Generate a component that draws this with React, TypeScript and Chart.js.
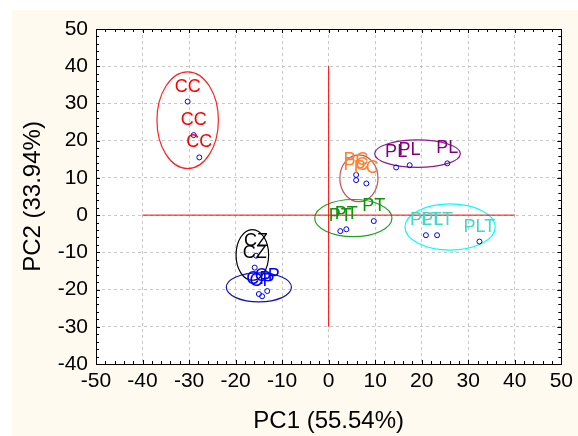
import React, { useEffect, useRef } from "react";
import { Chart, registerables } from "chart.js";

Chart.register(...registerables);

// Groups (sample classes)
const groupNames = ["CC", "CZ", "CP", "PC", "PT", "PL", "PLT"];
const labelColors = ["#ff0000", "#000000", "#0000ff", "#ff8030", "#0a960a", "#800080", "#40d8c8"];
const ellipseColors = ["#ff2020", "#000000", "#1010b0", "#c85050", "#20a020", "#8a1a8a", "#00ffff"];

// PCA scores (PC1, PC2) per group
const ccX = [-30.3, -29.0, -27.8];
const ccY = [30.5, 21.5, 15.5];
const czX = [-15.6, -15.9];
const czY = [-10.9, -14.1];
const cpX = [-15.0, -14.3, -13.2];
const cpY = [-21.2, -21.8, -20.4];
const pcX = [5.9, 5.9, 8.1];
const pcY = [10.8, 9.4, 8.5];
const ptX = [2.5, 3.8, 9.7];
const ptY = [-4.3, -3.8, -1.6];
const plX = [14.5, 17.4, 25.5];
const plY = [12.8, 13.4, 13.9];
const pltX = [20.9, 23.3, 32.4];
const pltY = [-5.4, -5.4, -7.1];

// Confidence ellipses: centre (x, y) and radii (rx, ry) in data units
const ellCX = [-30.3, -16.4, -15.0, 6.5, 5.3, 19.1, 26.1];
const ellCY = [25.5, -10.7, -19.4, 9.9, -0.8, 16.5, -3.2];
const ellRX = [6.6, 3.5, 7.0, 4.1, 8.3, 9.2, 9.7];
const ellRY = [13.0, 6.8, 3.9, 6.3, 5.0, 3.7, 6.2];

// Reference cross lines
const vLineX = [0, 0];
const vLineY = [-30, 40];
const hLineX = [-40, 40];
const hLineY = [0, 0];

// Axis ranges / ticks
const xMin = -50, xMax = 50, yMin = -40, yMax = 50;
const majorStep = 10, minorStep = 2;
const xTitle = "PC1 (55.54%)";
const yTitle = "PC2 (33.94%)";

const seriesX = [ccX, czX, cpX, pcX, ptX, plX, pltX];
const seriesY = [ccY, czY, cpY, pcY, ptY, plY, pltY];

const FONT = "'Liberation Sans', Arial, sans-serif";

export default function App() {
  const ref = useRef<HTMLCanvasElement | null>(null);

  useEffect(() => {
    if (!ref.current) return;

    const pointDatasets = groupNames.map((name, i) => ({
      type: "scatter" as const,
      label: name,
      data: seriesX[i].map((x, j) => ({ x, y: seriesY[i][j] })),
      pointRadius: 2.5,
      pointBorderWidth: 1,
      pointBorderColor: "#0000ff",
      pointBackgroundColor: "rgba(255,255,255,0)",
      showLine: false,
    }));

    const refLine = (xs: number[], ys: number[]) => ({
      type: "line" as const,
      label: "__ref",
      data: xs.map((x, j) => ({ x, y: ys[j] })),
      borderColor: "#ff0000",
      borderWidth: 1,
      pointRadius: 0,
      showLine: true,
      fill: false,
    });

    const bgPlugin = {
      id: "bg",
      beforeDraw(chart: any) {
        const { ctx, width, height, chartArea } = chart;
        ctx.save();
        ctx.fillStyle = "#ffffff";
        ctx.fillRect(0, 0, width, height);
        ctx.fillStyle = "#fffaf0";
        ctx.fillRect(12, 10, width - 12, height - 10);
        ctx.fillStyle = "#ffffff";
        ctx.fillRect(chartArea.left, chartArea.top, chartArea.right - chartArea.left, chartArea.bottom - chartArea.top);
        ctx.restore();
      },
    };

    const ellipsePlugin = {
      id: "ellipses",
      beforeDatasetsDraw(chart: any) {
        const { ctx } = chart;
        const xs = chart.scales.x;
        const ys = chart.scales.y;
        ctx.save();
        ellCX.forEach((cx, i) => {
          const px = xs.getPixelForValue(cx);
          const py = ys.getPixelForValue(ellCY[i]);
          const rx = Math.abs(xs.getPixelForValue(cx + ellRX[i]) - px);
          const ry = Math.abs(ys.getPixelForValue(ellCY[i] + ellRY[i]) - py);
          ctx.beginPath();
          ctx.ellipse(px, py, rx, ry, 0, 0, Math.PI * 2);
          ctx.strokeStyle = ellipseColors[i];
          ctx.lineWidth = 1.2;
          ctx.stroke();
        });
        ctx.restore();
      },
    };

    const labelPlugin = {
      id: "pointLabels",
      afterDatasetsDraw(chart: any) {
        const { ctx } = chart;
        ctx.save();
        ctx.font = `18px ${FONT}`;
        ctx.textAlign = "center";
        ctx.textBaseline = "middle";
        chart.data.datasets.forEach((ds: any, i: number) => {
          if (ds.label === "__ref") return;
          const meta = chart.getDatasetMeta(i);
          ctx.fillStyle = labelColors[i];
          meta.data.forEach((el: any) => {
            ctx.fillText(ds.label, el.x, el.y - 15);
          });
        });
        ctx.restore();
      },
    };

    const framePlugin = {
      id: "frame",
      afterDraw(chart: any) {
        const { ctx, chartArea } = chart;
        const { left, right, top, bottom } = chartArea;
        const xs = chart.scales.x;
        const ys = chart.scales.y;
        ctx.save();
        ctx.strokeStyle = "#000000";
        ctx.lineWidth = 1;
        ctx.beginPath();
        for (let v = xMin; v <= xMax + 1e-9; v += minorStep) {
          const p = Math.round(xs.getPixelForValue(v)) + 0.5;
          const len = v % majorStep === 0 ? 4 : 3;
          ctx.moveTo(p, bottom);
          ctx.lineTo(p, bottom - len);
          ctx.moveTo(p, top);
          ctx.lineTo(p, top + len);
        }
        for (let v = yMin; v <= yMax + 1e-9; v += minorStep) {
          const p = Math.round(ys.getPixelForValue(v)) + 0.5;
          const len = v % majorStep === 0 ? 4 : 3;
          ctx.moveTo(left, p);
          ctx.lineTo(left + len, p);
          ctx.moveTo(right, p);
          ctx.lineTo(right - len, p);
        }
        ctx.stroke();
        ctx.strokeRect(Math.round(left) + 0.5, Math.round(top) + 0.5, Math.round(right - left), Math.round(bottom - top));
        ctx.restore();
      },
    };

    const chart = new Chart(ref.current, {
      type: "scatter",
      data: {
        datasets: [...pointDatasets, refLine(vLineX, vLineY), refLine(hLineX, hLineY)] as any,
      },
      options: {
        animation: false,
        responsive: false,
        maintainAspectRatio: false,
        layout: { padding: { top: 29, right: 13, left: 0, bottom: 0 } },
        plugins: {
          legend: { display: false },
          tooltip: { enabled: false },
        },
        scales: {
          x: {
            type: "linear",
            min: xMin,
            max: xMax,
            afterFit(scale: any) {
              scale.height = 72;
            },
            ticks: {
              stepSize: majorStep,
              color: "#000",
              font: { family: FONT, size: 21 },
              padding: 5,
              maxRotation: 0,
            },
            grid: { color: "#c8c8c8", lineWidth: 1, drawTicks: false },
            border: { display: false, dash: [3, 3] },
            title: {
              display: true,
              text: xTitle,
              color: "#000",
              font: { family: FONT, size: 24 },
              padding: { top: 0, bottom: 0 },
            },
          },
          y: {
            type: "linear",
            min: yMin,
            max: yMax,
            afterFit(scale: any) {
              scale.width = 96;
            },
            ticks: {
              stepSize: majorStep,
              color: "#000",
              font: { family: FONT, size: 21 },
              padding: 8,
            },
            grid: { color: "#c8c8c8", lineWidth: 1, drawTicks: false },
            border: { display: false, dash: [3, 3] },
            title: {
              display: true,
              text: yTitle,
              color: "#000",
              font: { family: FONT, size: 24 },
              padding: { top: 19, bottom: 0 },
            },
          },
        },
      },
      plugins: [bgPlugin, ellipsePlugin, labelPlugin, framePlugin],
    });

    return () => chart.destroy();
  }, []);

  return (
    <div style={{ position: "absolute", left: 0, top: 0, width: 578, height: 436 }}>
      <canvas ref={ref} width={578} height={436} style={{ display: "block" }} />
    </div>
  );
}
